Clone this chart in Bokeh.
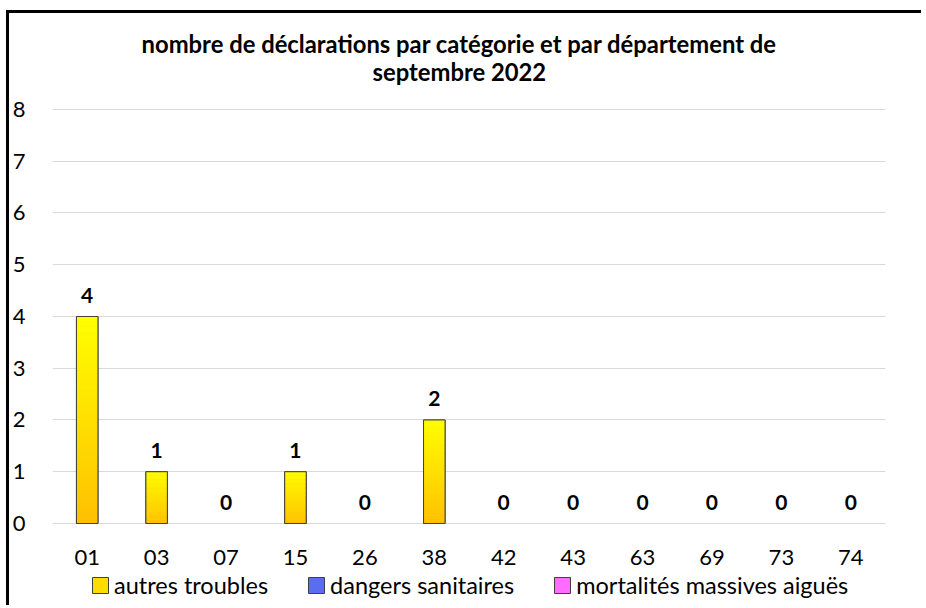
from bokeh.plotting import figure
from bokeh.models import (ColumnDataSource, FactorRange, Legend, LegendItem,
                          FixedTicker)
from bokeh.core.properties import value
from bokeh.embed import file_html
from bokeh.resources import INLINE

# ---- data ----
departements = ["01", "03", "07", "15", "26", "38", "42", "43", "63", "69", "73", "74"]
autres_troubles = [4, 1, 0, 1, 0, 2, 0, 0, 0, 0, 0, 0]
dangers_sanitaires = [0, 0, 0, 0, 0, 0, 0, 0, 0, 0, 0, 0]
mortalites_massives = [0, 0, 0, 0, 0, 0, 0, 0, 0, 0, 0, 0]
y_ticks = [0, 1, 2, 3, 4, 5, 6, 7, 8]
title_lines = ["nombre de déclarations par catégorie et par département de",
               "septembre 2022"]
series_names = ["autres troubles", "dangers sanitaires", "mortalités massives aiguës"]

FONT = "Lato"
BAR_W = 0.31

# frame covers the full canvas height so that title, category labels and
# legend (drawn inside the frame) are never clipped
p = figure(x_range=FactorRange(*departements), y_range=(-1.643, 9.855),
           width=915, height=595, output_backend="svg", toolbar_location=None,
           title=None, x_axis_location=None,
           min_border_left=41, min_border_right=39, min_border_top=0,
           min_border_bottom=0)
p.styles = {"border-left": "3px solid black", "border-top": "3px solid black",
            "margin-left": "6px", "margin-top": "10px"}
p.background_fill_color = "white"
p.border_fill_color = "white"
p.outline_line_color = None

top_val = y_ticks[-1]

# ---- title (two centred lines) ----
p.text(x=[departements[5]] * 2, y=[top_val] * 2, text=title_lines,
       x_offset=25, y_offset=[-65, -37], text_align="center",
       text_baseline="middle", text_font=value(FONT), text_font_size="23.8px",
       text_font_style="bold", text_color="black")

# ---- legend proxy for "autres troubles" (drawn beneath the gradient) ----
nz = [(d, v) for d, v in zip(departements, autres_troubles) if v > 0]
r1 = p.vbar(x=[d for d, v in nz], top=[v for d, v in nz], width=BAR_W,
            fill_color="#ffdc00", line_color="#404040")

# ---- gradient bars (slices computed from values) ----
N = 40
top_c = (255, 255, 0)
bot_c = (255, 192, 0)
xs, bots, tops, cols = [], [], [], []
for d, v in zip(departements, autres_troubles):
    if v <= 0:
        continue
    for i in range(N):
        f = (i + 0.5) / N
        r = round(bot_c[0] + (top_c[0] - bot_c[0]) * f)
        g = round(bot_c[1] + (top_c[1] - bot_c[1]) * f)
        b = round(bot_c[2] + (top_c[2] - bot_c[2]) * f)
        xs.append(d)
        bots.append(v * i / N)
        tops.append(v * (i + 1) / N + v * 0.002)
        cols.append("#%02x%02x%02x" % (r, g, b))
p.vbar(x=xs, bottom=bots, top=tops, width=BAR_W, fill_color=cols, line_color=None)

# outline of bars
p.vbar(x=[d for d, v in nz], top=[v for d, v in nz], width=BAR_W,
       fill_alpha=0, line_color="#404040", line_width=1)

# other series (all zero -> nothing visible in the plot)
r2 = p.vbar(x=departements, bottom=autres_troubles,
            top=[a + b for a, b in zip(autres_troubles, dangers_sanitaires)],
            width=0, fill_color="#5a6cf0", line_color="#404040")
r3 = p.vbar(x=departements,
            bottom=[a + b for a, b in zip(autres_troubles, dangers_sanitaires)],
            top=[a + b + c for a, b, c in zip(autres_troubles, dangers_sanitaires,
                                               mortalites_massives)],
            width=0, fill_color="#ff6cff", line_color="#404040")

# data labels
lab_src = ColumnDataSource(dict(x=departements, y=autres_troubles,
                                t=[str(v) for v in autres_troubles]))
p.text(x="x", y="y", text="t", source=lab_src, text_align="center",
       text_baseline="middle", y_offset=-21, text_font=value(FONT),
       text_font_size="21px", text_font_style="bold", text_color="black")

# category labels (x axis)
cat_src = ColumnDataSource(dict(x=departements, y=[0] * len(departements)))
p.text(x="x", y="y", text="x", source=cat_src, text_align="center",
       text_baseline="middle", y_offset=34, text_font=value(FONT),
       text_font_size="22px", text_color="black")

legend = Legend(items=[LegendItem(label=series_names[0], renderers=[r1]),
                       LegendItem(label=series_names[1], renderers=[r2]),
                       LegendItem(label=series_names[2], renderers=[r3])],
                orientation="horizontal", location=(38, 9),
                glyph_width=20, glyph_height=20, label_standoff=4, spacing=38,
                padding=5, margin=0, border_line_color=None,
                background_fill_alpha=0, label_text_font=FONT,
                label_text_font_size="23.5px", label_text_color="black",
                label_height=24)
p.add_layout(legend, "center")

# y axis
p.yaxis.ticker = FixedTicker(ticks=y_ticks)
p.yaxis.axis_line_color = None
p.yaxis.major_tick_line_color = None
p.yaxis.minor_tick_line_color = None
p.yaxis.major_label_standoff = 21
p.yaxis.major_label_text_font = FONT
p.yaxis.major_label_text_font_size = "22px"
p.yaxis.major_label_text_color = "black"

p.xgrid.grid_line_color = None
p.ygrid.ticker = FixedTicker(ticks=y_ticks)
p.ygrid.grid_line_color = "#d9d9d9"
p.ygrid.grid_line_width = 1

open("out.html", "w").write(file_html(p, INLINE))
